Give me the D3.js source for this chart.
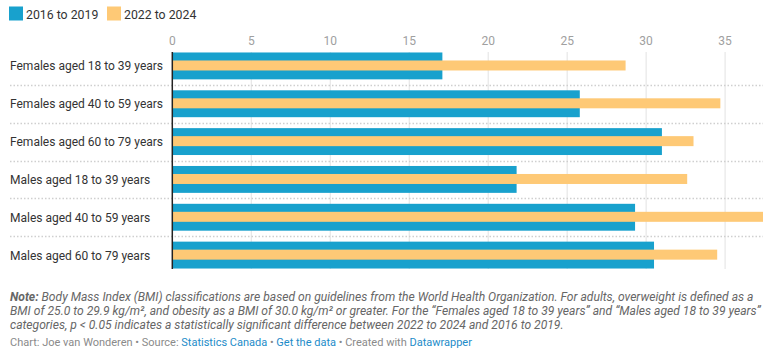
<!DOCTYPE html>
<html>
<head>
<meta charset="utf-8">
<script src="https://cdn.jsdelivr.net/npm/d3@7"></script>
<style>
  html, body { margin: 0; padding: 0; background: #fff; }
  svg { display: block; font-family: Roboto, "Noto Sans", sans-serif; }
</style>
</head>
<body>
<svg id="chart" width="770" height="356"></svg>
<script>
const categories = [
  "Females aged 18 to 39 years",
  "Females aged 40 to 59 years",
  "Females aged 60 to 79 years",
  "Males aged 18 to 39 years",
  "Males aged 40 to 59 years",
  "Males aged 60 to 79 years"
];
const seriesNames = ["2016 to 2019", "2022 to 2024"];
const values2016to2019 = [17.1, 25.8, 31.0, 21.8, 29.3, 30.5];
const values2022to2024 = [28.7, 34.7, 33.0, 32.6, 37.4, 34.5];
const xTicks = [0, 5, 10, 15, 20, 25, 30, 35];
const colors = ["#18a1cd", "#fec976"];

const svg = d3.select("#chart");

const left = 172.3, right = 763;
const x = d3.scaleLinear()
  .domain([0, d3.max(values2022to2024.concat(values2016to2019))])
  .range([left, right]);

const y = d3.scaleBand()
  .domain(categories)
  .range([47, 274])
  .paddingInner(11 / 38)
  .paddingOuter(5.5 / 38);

const plotTop = 52, plotBottom = 269;

// legend
const legend = svg.append("g");
const legendX = [9, 107];
seriesNames.forEach((n, i) => {
  legend.append("rect").attr("x", legendX[i]).attr("y", 6.5).attr("width", 14).attr("height", 14).attr("fill", colors[i]);
  legend.append("text").attr("x", legendX[i] + 17).attr("y", 18.5)
    .attr("font-size", 12.3).attr("fill", "#333").text(n);
});

// vertical gridlines
svg.append("g").selectAll("line").data(xTicks.filter(t => t > 0)).join("line")
  .attr("x1", d => x(d)).attr("x2", d => x(d))
  .attr("y1", plotTop).attr("y2", plotBottom)
  .attr("stroke", "#e2e2e2").attr("stroke-width", 1);

// tick labels
svg.append("g").selectAll("text").data(xTicks).join("text")
  .attr("x", d => x(d)).attr("y", 44.5)
  .attr("text-anchor", "middle")
  .attr("font-size", 12).attr("fill", "#a0a0a0")
  .text(d => d);

// dotted separators
const seps = categories.slice(0, -1).map((c) => y(c) + y.bandwidth() + y.step() * y.paddingInner() / 2);
svg.append("g").selectAll("line").data(seps).join("line")
  .attr("x1", 10).attr("x2", right)
  .attr("y1", d => Math.round(d) + 0.5).attr("y2", d => Math.round(d) + 0.5)
  .attr("stroke", "#cfcfcf").attr("stroke-width", 1.5)
  .attr("stroke-dasharray", "1.5,2");

// blue bars (full band)
svg.append("g").selectAll("rect").data(categories).join("rect")
  .attr("x", x(0)).attr("y", d => y(d))
  .attr("width", (d, i) => x(values2016to2019[i]) - x(0))
  .attr("height", y.bandwidth())
  .attr("fill", colors[0]);

// orange bars (inner)
svg.append("g").selectAll("rect").data(categories).join("rect")
  .attr("x", x(0)).attr("y", d => y(d) + 8)
  .attr("width", (d, i) => x(values2022to2024[i]) - x(0))
  .attr("height", 10)
  .attr("fill", colors[1]);

// axis baseline
svg.append("line").attr("x1", x(0)).attr("x2", x(0))
  .attr("y1", plotTop).attr("y2", plotBottom)
  .attr("stroke", "#222").attr("stroke-width", 1.5);

// category labels
svg.append("g").selectAll("text").data(categories).join("text")
  .attr("x", 10).attr("y", d => y(d) + y.bandwidth() / 2 + 4.5)
  .attr("font-size", 12).attr("fill", "#333")
  .text(d => d);

// notes
const noteLines = [
  [{t: "Note:", b: true}, {t: " Body Mass Index (BMI) classifications are based on guidelines from the World Health Organization. For adults, overweight is defined as a"}],
  [{t: "BMI of 25.0 to 29.9 kg/m², and obesity as a BMI of 30.0 kg/m² or greater. For the “Females aged 18 to 39 years” and “Males aged 18 to 39 years”"}],
  [{t: "categories, p < 0.05 indicates a statistically significant difference between 2022 to 2024 and 2016 to 2019."}]
];
noteLines.forEach((parts, i) => {
  const t = svg.append("text").attr("x", 10).attr("y", 301 + i * 14)
    .attr("font-size", 12.1).attr("font-style", "italic").attr("fill", "#666");
  parts.forEach(p => t.append("tspan").attr("font-weight", p.b ? "bold" : null).text(p.t));
});

// footer
const footer = [
  {t: "Chart: Joe van Wonderen • Source: ", c: "#8a8a8a"},
  {t: "Statistics Canada", c: "#1d8cc9"},
  {t: " • ", c: "#8a8a8a"},
  {t: "Get the data", c: "#1d8cc9"},
  {t: " • Created with ", c: "#8a8a8a"},
  {t: "Datawrapper", c: "#1d8cc9"}
];
const ft = svg.append("text").attr("x", 10).attr("y", 346).attr("font-size", 11);
footer.forEach(p => ft.append("tspan").attr("fill", p.c).text(p.t));
</script>
</body>
</html>
